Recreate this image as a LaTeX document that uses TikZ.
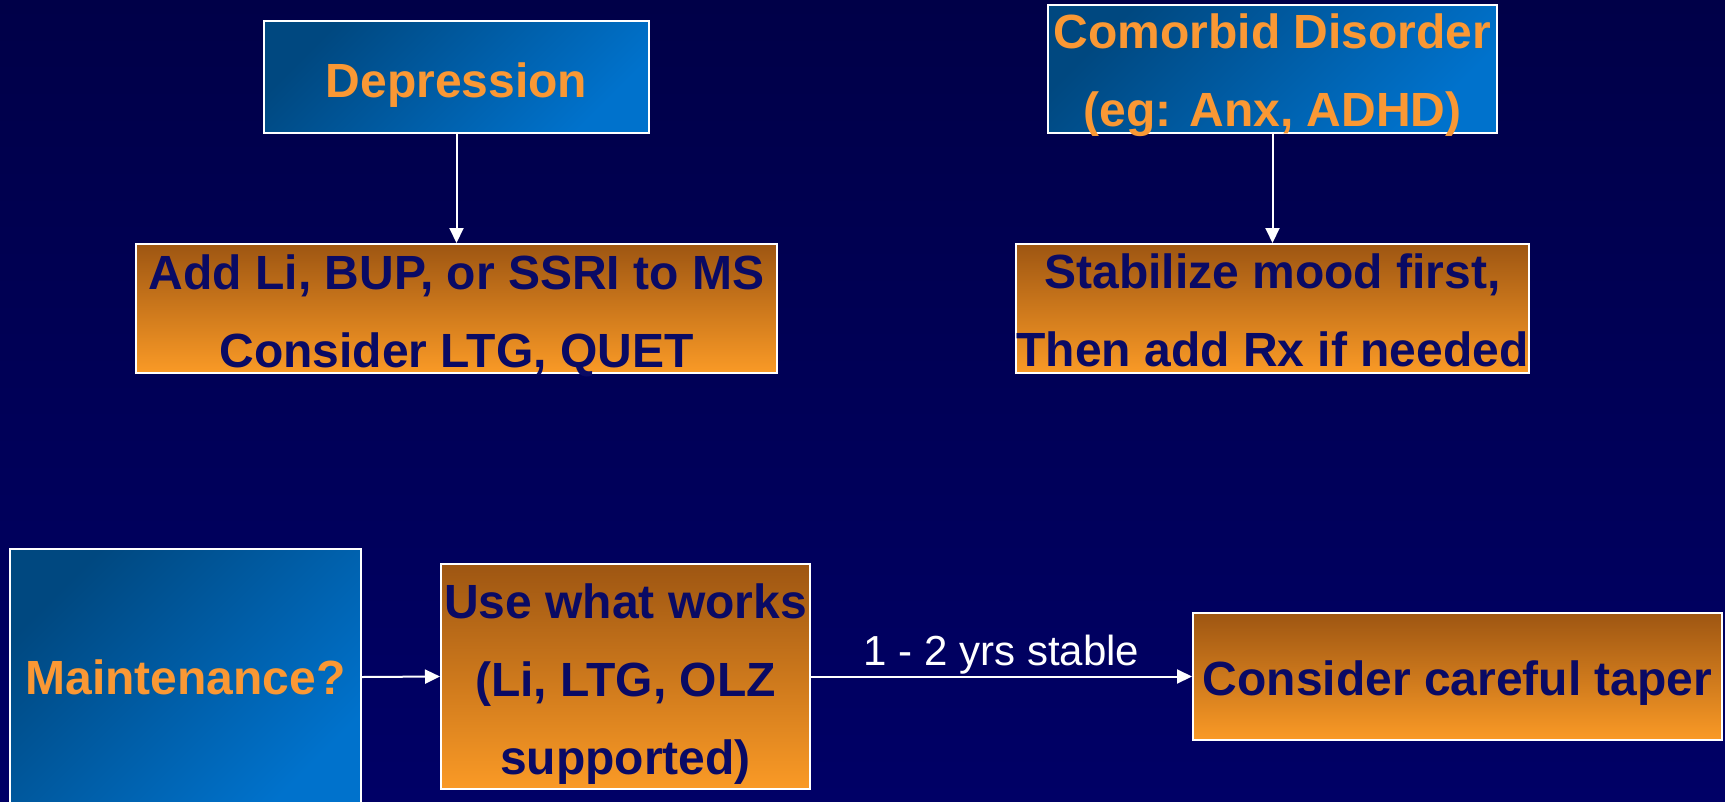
\documentclass[tikz,border=0pt]{standalone}
\usepackage{fontspec}
\setmainfont{Liberation Sans}
\usetikzlibrary{arrows.meta}
\definecolor{bgtop}{RGB}{0,0,72}
\definecolor{bgbot}{RGB}{0,0,102}
\definecolor{bluedark}{RGB}{0,72,128}
\definecolor{bluelight}{RGB}{0,114,204}
\definecolor{orgtop}{RGB}{158,86,18}
\definecolor{orgbot}{RGB}{250,154,38}
\definecolor{orgtext}{RGB}{250,152,52}
\definecolor{navytext}{RGB}{10,10,100}
\begin{document}
\begin{tikzpicture}[x=1pt,y=-1pt,
  boxfont/.style={font=\bfseries\fontsize{48}{78}\selectfont},
  bluebox/.style={draw=white, line width=2pt, top color=bluedark, bottom color=bluelight, shading angle=45, inner sep=0pt},
  orangebox/.style={draw=white, line width=2pt, top color=orgtop, bottom color=orgbot, inner sep=0pt},
  bluetext/.style={text=orgtext, boxfont, align=center, inner sep=0pt},
  orangetext/.style={text=navytext, boxfont, align=center, inner sep=0pt},
  arr/.style={draw=white, line width=2pt, -{Triangle[length=15pt,width=14pt]}},
  lbl/.style={text=white, font=\fontsize{42}{50}\selectfont, inner sep=0pt}]
\useasboundingbox (0,0) rectangle (1725,801);
\shade[top color=bgtop, bottom color=bgbot] (0,0) rectangle (1725,801);
% boxes
\node[bluebox, minimum width=385pt, minimum height=112pt] (dep) at (456.5,77) {};
\node[bluebox, minimum width=449pt, minimum height=128pt] (com) at (1272.5,69) {};
\node[orangebox, minimum width=641pt, minimum height=129pt] (add) at (456.5,308.5) {};
\node[orangebox, minimum width=513pt, minimum height=129pt] (stab) at (1272.5,308.5) {};
\node[bluebox, minimum width=351pt, minimum height=256pt] (maint) at (185.5,677) {};
\node[orangebox, minimum width=369pt, minimum height=225pt] (use) at (625.5,676.5) {};
\node[orangebox, minimum width=529pt, minimum height=127pt] (cons) at (1457.5,676.5) {};
% texts
\node[bluetext] (deptxt) at ([yshift=-8pt]dep.center) {Depression};
\node[bluetext] (comtxt) at ([yshift=-6pt]com.center) {Comorbid Disorder\\(eg: Anx, ADHD)};
\node[orangetext] (addtxt) at ([yshift=-7pt]add.center) {Add Li, BUP, or SSRI to MS\\Consider LTG, QUET};
\node[orangetext] (stabtxt) at ([yshift=-2pt]stab.center) {Stabilize mood first,\\Then add Rx if needed};
\node[bluetext] (mainttxt) at (maint.center) {Maintenance?};
\node[orangetext] (usetxt) at ([yshift=-8pt]use.center) {Use what works\\(Li, LTG, OLZ\\supported)};
\node[orangetext] (constxt) at ([yshift=-7pt]cons.center) {Consider careful taper};
% connectors
\draw[arr] (dep.south) -- (add.north);
\draw[arr] (com.south) -- (stab.north);
\draw[arr] (maint.east) -- (use.west);
\draw[arr] (use.east) -- node[lbl, pos=0.5, anchor=base, yshift=11pt] (yrs) {1 - 2 yrs stable} (cons.west);
\end{tikzpicture}
\end{document}
